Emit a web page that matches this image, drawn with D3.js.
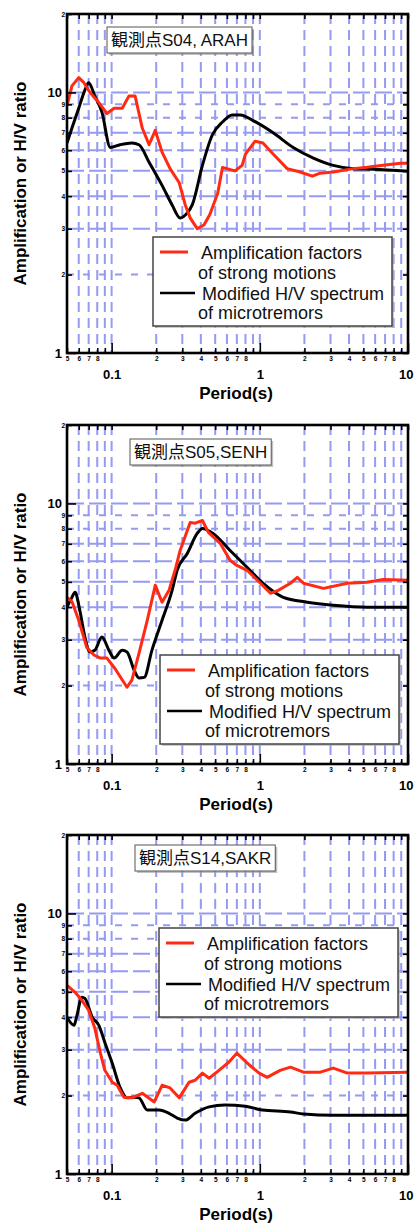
<!DOCTYPE html>
<html>
<head>
<meta charset="utf-8">
<script src="https://cdn.jsdelivr.net/npm/d3@7"></script>
<style>
  html, body { margin: 0; padding: 0; background: #fff; }
  svg { display: block; }
</style>
</head>
<body>
<div id="chart"></div>
<script>
// ---- data: [period (s), ratio] ----
const s04Amp = [[0.05,8.9],[0.054,10.6],[0.060,11.4],[0.065,10.9],[0.0715,10.0],[0.080,9.3],[0.093,8.3],[0.104,8.7],[0.118,8.7],[0.131,9.7],[0.144,9.7],[0.161,7.3],[0.179,6.3],[0.197,7.15],[0.219,5.9],[0.248,5.1],[0.286,4.5],[0.314,3.7],[0.339,3.3],[0.378,3.0],[0.42,3.1],[0.46,3.4],[0.52,4.1],[0.56,5.15],[0.68,5.0],[0.76,5.25],[0.80,5.8],[0.93,6.5],[1.05,6.4],[1.23,5.8],[1.53,5.1],[1.87,4.95],[2.26,4.77],[2.56,4.9],[3.13,4.95],[4.27,5.1],[5.3,5.16],[6.8,5.25],[8.9,5.35],[10,5.35]];
const s04Hv  = [[0.05,6.4],[0.054,7.3],[0.060,8.7],[0.066,10.2],[0.070,10.9],[0.077,9.7],[0.086,8.4],[0.098,6.15],[0.114,6.3],[0.137,6.4],[0.153,6.3],[0.179,5.4],[0.219,4.4],[0.256,3.7],[0.290,3.3],[0.324,3.45],[0.35,3.7],[0.41,5.25],[0.477,6.85],[0.56,7.7],[0.65,8.2],[0.74,8.2],[0.90,7.8],[1.23,7.0],[1.68,6.15],[2.30,5.6],[3.13,5.25],[4.27,5.1],[5.8,5.07],[10,4.98]];

const s05Amp = [[0.05,4.36],[0.054,4.2],[0.060,3.56],[0.068,2.8],[0.076,2.62],[0.084,2.55],[0.093,2.55],[0.105,2.33],[0.127,1.97],[0.137,2.1],[0.153,2.66],[0.174,3.56],[0.197,4.85],[0.219,4.18],[0.244,4.64],[0.268,5.54],[0.290,6.6],[0.339,8.45],[0.366,8.4],[0.41,8.6],[0.45,7.74],[0.54,7.03],[0.63,6.05],[0.70,5.78],[0.82,5.54],[1.01,4.94],[1.18,4.52],[1.33,4.64],[1.61,4.94],[1.79,5.2],[1.97,4.94],[2.69,4.72],[3.9,4.94],[5.3,4.98],[6.8,5.11],[10,5.07]];
const s05Hv  = [[0.05,4.0],[0.054,4.36],[0.0567,4.56],[0.061,3.89],[0.066,3.07],[0.0715,2.69],[0.077,2.73],[0.086,3.07],[0.096,2.73],[0.104,2.55],[0.118,2.73],[0.127,2.69],[0.142,2.29],[0.153,2.14],[0.166,2.15],[0.187,2.73],[0.219,3.56],[0.256,4.64],[0.277,5.54],[0.324,6.43],[0.378,7.67],[0.41,8.02],[0.484,7.67],[0.63,6.6],[0.82,5.69],[1.05,4.94],[1.44,4.36],[2.09,4.18],[3.13,4.07],[5.3,4.0],[10,4.0]];

const s14Amp = [[0.05,5.3],[0.0567,4.98],[0.063,4.64],[0.070,4.25],[0.077,3.63],[0.084,2.91],[0.090,2.5],[0.101,2.25],[0.109,2.19],[0.121,1.97],[0.137,1.96],[0.161,2.04],[0.194,1.89],[0.219,2.19],[0.248,2.14],[0.286,1.96],[0.333,2.25],[0.366,2.29],[0.41,2.44],[0.455,2.33],[0.53,2.5],[0.62,2.69],[0.70,2.91],[0.85,2.62],[0.99,2.44],[1.12,2.35],[1.37,2.5],[1.61,2.57],[1.97,2.46],[2.56,2.46],[3.13,2.55],[3.9,2.44],[5.3,2.44],[10,2.46]];
const s14Hv  = [[0.05,4.0],[0.0558,3.72],[0.058,4.0],[0.063,4.77],[0.066,4.72],[0.074,4.0],[0.082,3.72],[0.090,3.2],[0.101,2.66],[0.114,2.15],[0.127,1.96],[0.142,1.97],[0.153,1.96],[0.174,1.76],[0.209,1.76],[0.244,1.71],[0.277,1.64],[0.314,1.61],[0.366,1.71],[0.455,1.81],[0.58,1.84],[0.80,1.82],[1.04,1.76],[1.61,1.73],[1.97,1.70],[3.13,1.68],[10,1.68]];

const stationNames = ["観測点S04, ARAH", "観測点S05,SENH", "観測点S14,SAKR"];
const ampSeries = [s04Amp, s05Amp, s14Amp];
const hvSeries  = [s04Hv, s05Hv, s14Hv];
const legendLines = [" Amplification factors", "of strong motions", " Modified H/V spectrum", "of microtremors"];

// ticks
const xMinorTicks = [0.05,0.06,0.07,0.08,0.09,0.2,0.3,0.4,0.5,0.6,0.7,0.8,0.9,2,3,4,5,6,7,8,9];
const xMajorTicks = [0.1, 1, 10];
const yMinorTicks = [2,3,4,5,6,7,8,9,20];
const yMajorTicks = [1, 10];
const yGrid = [2,3,4,5,6,7,8,9,10];

// ---- layout ----
const W = 414, H = 1224;
const L = 67, R = 408, PH = 339;
const panelTops  = [14, 425, 835];
const titlePos   = [{x:107, y:27}, {x:130, y:439}, {x:135, y:845}];
const legendPos  = [{x:153, y:237}, {x:160, y:655}, {x:159, y:928}];

const RED = "#ff2a14";
const GRID = "#959af2";
const FONT = "'Liberation Sans', Arial, sans-serif";

// leading digit for minor labels (9 left blank like the original)
function digit(d) {
  const k = Math.round(d / Math.pow(10, Math.floor(Math.log10(d) + 1e-9)));
  return k === 9 || k === 1 ? "" : String(k);
}

const svg = d3.select("#chart").append("svg")
  .attr("width", W).attr("height", H)
  .attr("viewBox", [0, 0, W, H]);

const defs = svg.append("defs");

panelTops.forEach((top, i) => {
  const x = d3.scaleLog().domain([0.05, 10]).range([L, R]);
  const y = d3.scaleLog().domain([1, 20]).range([top + PH, top]);
  const g = svg.append("g");

  defs.append("clipPath").attr("id", "clip" + i)
    .append("rect").attr("x", L).attr("y", top).attr("width", R - L).attr("height", PH);

  // grid – dashed blue
  g.append("g").selectAll("line")
    .data(xMinorTicks.concat(xMajorTicks).filter(v => v > 0.05 && v < 10))
    .join("line")
    .attr("x1", d => x(d)).attr("x2", d => x(d))
    .attr("y1", top).attr("y2", top + PH)
    .attr("stroke", GRID).attr("stroke-width", 2)
    .attr("stroke-dasharray", "10,6");

  g.append("g").selectAll("line")
    .data(yGrid)
    .join("line")
    .attr("x1", L).attr("x2", R)
    .attr("y1", d => y(d)).attr("y2", d => y(d))
    .attr("stroke", GRID).attr("stroke-width", 2)
    .attr("stroke-dasharray", d => (d === 2 || d >= 8 && d < 10) ? "7,9" : "17,5");

  // curves
  const line = d3.line().x(d => x(d[0])).y(d => y(d[1]));
  const curves = g.append("g").attr("clip-path", `url(#clip${i})`);
  curves.append("path").datum(hvSeries[i])
    .attr("d", line.curve(d3.curveMonotoneX))
    .attr("fill", "none").attr("stroke", "#000").attr("stroke-width", 3)
    .attr("stroke-linejoin", "round");
  curves.append("path").datum(ampSeries[i])
    .attr("d", line.curve(d3.curveLinear))
    .attr("fill", "none").attr("stroke", RED).attr("stroke-width", 3)
    .attr("stroke-linejoin", "round");

  // axes (ticks inward)
  const axB = g.append("g").attr("transform", `translate(0,${top + PH})`)
    .call(d3.axisBottom(x).tickValues(xMinorTicks).tickSize(-5).tickPadding(3).tickFormat(digit));
  axB.selectAll("text").style("font", `bold 6.5px ${FONT}`);

  const axBM = g.append("g").attr("transform", `translate(0,${top + PH})`)
    .call(d3.axisBottom(x).tickValues(xMajorTicks).tickSize(-10).tickPadding(17).tickFormat(d => String(d)));
  axBM.selectAll("text").style("font", `bold 13px ${FONT}`);
  // last label sits on the right edge, keep it inside the page
  axBM.selectAll(".tick text").filter(d => d === 10)
    .attr("text-anchor", "end").attr("x", 5);

  g.append("g").attr("transform", `translate(0,${top})`)
    .call(d3.axisTop(x).tickValues(xMinorTicks.concat(xMajorTicks)).tickSize(-5).tickFormat(""));

  const axL = g.append("g").attr("transform", `translate(${L},0)`)
    .call(d3.axisLeft(y).tickValues(yMinorTicks).tickSize(-5).tickPadding(2)
      .tickFormat(d => d === 20 ? "2" : String(d)));
  axL.selectAll("text").style("font", `bold 6.5px ${FONT}`);

  const axLM = g.append("g").attr("transform", `translate(${L},0)`)
    .call(d3.axisLeft(y).tickValues(yMajorTicks).tickSize(-9).tickPadding(5).tickFormat(d => String(d)));
  axLM.selectAll("text").style("font", `bold 13px ${FONT}`);

  g.append("g").attr("transform", `translate(${R},0)`)
    .call(d3.axisRight(y).tickValues(yMinorTicks.concat(yMajorTicks)).tickSize(-5).tickFormat(""));

  g.selectAll(".domain").remove();
  g.selectAll(".tick line").attr("stroke", "#000").attr("stroke-width", 1.6);
  g.selectAll(".tick text").attr("fill", "#000");

  // frame
  g.append("rect")
    .attr("x", L).attr("y", top).attr("width", R - L).attr("height", PH)
    .attr("fill", "none").attr("stroke", "#000").attr("stroke-width", 2.6);

  // axis titles
  g.append("text")
    .attr("x", 236).attr("y", top + PH + 46)
    .attr("text-anchor", "middle")
    .style("font", `bold 17px ${FONT}`)
    .text("Period(s)");

  g.append("text")
    .attr("transform", `translate(20,${top + PH / 2}) rotate(-90)`)
    .attr("text-anchor", "middle").attr("dominant-baseline", "central")
    .style("font", `bold 17px ${FONT}`)
    .text("Amplification or H/V ratio");

  // station label box
  const tp = titlePos[i];
  const tb = g.append("g").attr("transform", `translate(${tp.x},${tp.y})`);
  const shadowT = tb.append("rect").attr("x", 2).attr("y", 2).attr("height", 26)
    .attr("fill", "#999").attr("opacity", 0.6);
  const boxT = tb.append("rect").attr("height", 26)
    .attr("fill", "#fff").attr("stroke", "#555").attr("stroke-width", 1);
  const tt = tb.append("text").attr("x", 4).attr("y", 19)
    .style("font", `17px ${FONT}, 'Noto Sans CJK JP'`)
    .attr("fill", "#111")
    .text(stationNames[i]);
  const tw = tt.node().getComputedTextLength() + 8;
  shadowT.attr("width", tw);
  boxT.attr("width", tw);

  // legend
  const lp = legendPos[i];
  const lg = g.append("g").attr("transform", `translate(${lp.x},${lp.y})`);
  lg.append("rect").attr("x", 2).attr("y", 2).attr("width", 239).attr("height", 89)
    .attr("fill", "#aaa").attr("opacity", 0.6);
  lg.append("rect").attr("width", 239).attr("height", 89)
    .attr("fill", "#fff").attr("stroke", "#444").attr("stroke-width", 1.5);
  lg.append("line").attr("x1", 7).attr("x2", 35).attr("y1", 15).attr("y2", 15)
    .attr("stroke", RED).attr("stroke-width", 3);
  lg.append("line").attr("x1", 7).attr("x2", 42).attr("y1", 56).attr("y2", 56)
    .attr("stroke", "#000").attr("stroke-width", 2.6);
  const rows = [15, 35.5, 56, 75.5];
  const xs = [44, 45, 44, 45];
  lg.selectAll("text.lgt").data(legendLines).join("text")
    .attr("class", "lgt")
    .attr("x", (d, k) => xs[k]).attr("y", (d, k) => rows[k] + 6.5)
    .attr("xml:space", "preserve")
    .style("white-space", "pre")
    .style("font", `18px ${FONT}`)
    .attr("fill", "#111")
    .text(d => d);
});
</script>
</body>
</html>
